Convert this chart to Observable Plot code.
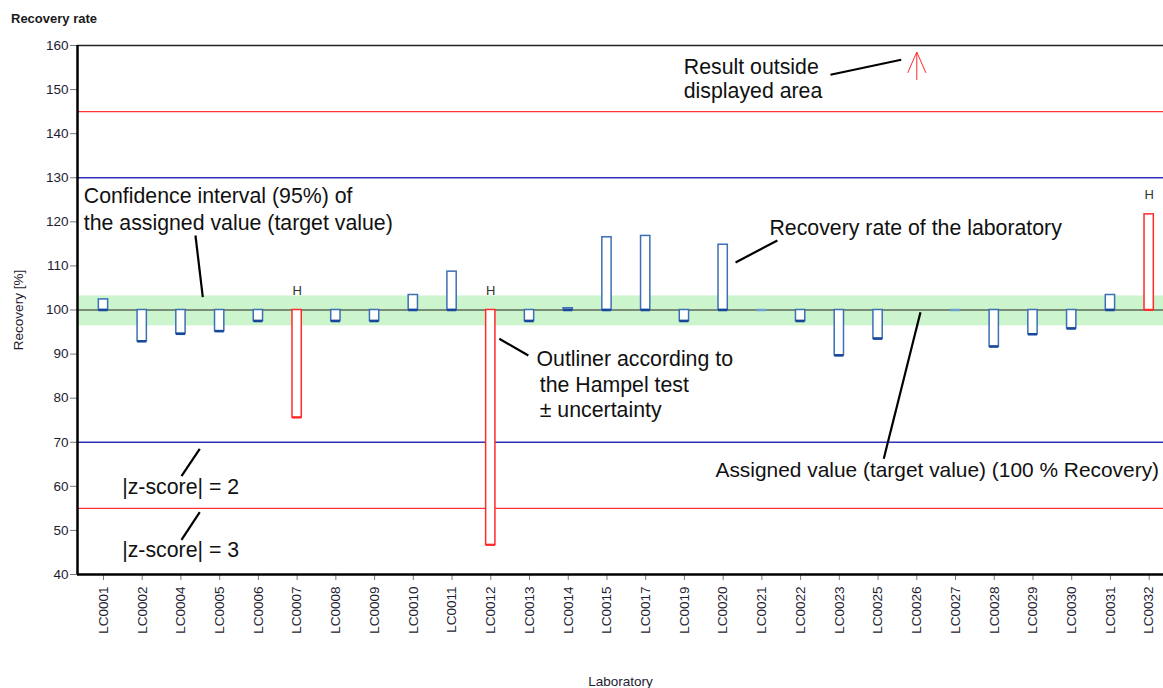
<!DOCTYPE html>
<html><head><meta charset="utf-8">
<script src="https://cdn.jsdelivr.net/npm/d3@7"></script>
<script src="https://cdn.jsdelivr.net/npm/@observablehq/plot@0.6"></script>
<style>
html,body{margin:0;padding:0;background:#fff;overflow:hidden;}
#title{height:30px;box-sizing:border-box;padding:12px 0 0 11px;font:bold 13px/13px "Liberation Sans",Arial,sans-serif;color:#1a1a1a;}
#chart svg{display:block;}
</style></head><body>
<div id="title">Recovery rate</div>
<div id="chart"></div>
<script>
// ---- data ----
const labs = ["LC0001","LC0002","LC0004","LC0005","LC0006","LC0007","LC0008","LC0009","LC0010","LC0011",
  "LC0012","LC0013","LC0014","LC0015","LC0017","LC0019","LC0020","LC0021","LC0022","LC0023",
  "LC0025","LC0026","LC0027","LC0028","LC0029","LC0030","LC0031","LC0032"];
const recovery = [102.4, 92.9, 94.6, 95.2, 97.5, 75.6, 97.5, 97.5, 103.4, 108.7,
  46.7, 97.5, 100.4, 116.5, 116.8, 97.5, 114.8, 100.0, 97.5, 89.7,
  93.5, 175.0, 100.0, 91.7, 94.5, 95.8, 103.4, 121.7];
const hampel = ["LC0007","LC0012","LC0032"];
const assigned = 100;
const ciRange = [96.4, 103.2];
const zScore2 = [70, 130];
const zScore3 = [55, 145];
const yTicks = [40,50,60,70,80,90,100,110,120,130,140,150,160];
const yDomain = [40, 160];

// annotation texts (left edge / baseline, data units)
const noteTexts = [
  {t: "Confidence interval (95%) of", x: -0.509, y: 124.32},
  {t: "the assigned value (target value)", x: -0.509, y: 118.19},
  {t: "Recovery rate of the laboratory", x: 17.196, y: 116.90},
  {t: "Outliner according to", x: 11.18, y: 87.41},
  {t: "the Hampel test", x: 11.265, y: 81.35},
  {t: "± uncertainty", x: 11.265, y: 75.68},
  {t: "Result outside", x: 14.983, y: 153.58},
  {t: "displayed area", x: 14.983, y: 147.98},
  {t: "|z-score| = 2", x: 0.483, y: 58.30},
  {t: "|z-score| = 3", x: 0.483, y: 44.08}
];
const noteAssigned = [{t: "Assigned value (target value) (100 % Recovery)", x: 15.802, y: 62.07}];
// annotation leader lines (data units)
const noteLinks = [
  {x1: 2.375, y1: 116.90, x2: 2.564, y2: 102.90},
  {x1: 16.32, y1: 110.78, x2: 17.40, y2: 115.77},
  {x1: 10.22, y1: 93.47, x2: 10.97, y2: 89.68},
  {x1: 18.771, y1: 153.36, x2: 20.597, y2: 156.76},
  {x1: 21.095, y1: 99.50, x2: 20.147, y2: 66.24},
  {x1: 2.486, y1: 68.51, x2: 2.014, y2: 62.30},
  {x1: 2.486, y1: 54.13, x2: 2.014, y2: 47.87}
];

// ---- build ----
const rows = labs.map((lab, i) => ({lab, i, v: recovery[i], h: hampel.includes(lab)}));
const inside = rows.filter(d => d.v >= yDomain[0] && d.v <= yDomain[1]);
const outside = rows.filter(d => d.v > yDomain[1]);
const hw = 0.12;
const BLUE = "#3d6fb5", DARK = "#17479a", LIGHT = "#6e9fd6", RED = "#ff2a2a";
const LINEBLUE = "#2f2fb8", LINERED = "#ff3333";
const xDomain = [-0.671, 27.37];

const chart = Plot.plot({
  width: 1163, height: 658,
  marginLeft: 77, marginRight: 0, marginTop: 15, marginBottom: 114,
  style: {fontFamily: "'Liberation Sans', Arial, sans-serif", fontSize: "13px", background: "#fff", overflow: "hidden"},
  x: {domain: xDomain},
  y: {domain: yDomain},
  marks: [
    Plot.rectY([ciRange], {y1: d => d[0], y2: d => d[1], fill: "#cdf5cd"}),
    Plot.ruleY(zScore3, {stroke: LINERED, strokeWidth: 1.3}),
    Plot.ruleY(zScore2, {stroke: LINEBLUE, strokeWidth: 1.3}),
    Plot.ruleY([assigned], {stroke: "#222", strokeWidth: 1}),
    Plot.ruleY([yDomain[1]], {stroke: "#222", strokeWidth: 1.5}),
    Plot.rect(inside.filter(d => !d.h && d.v !== assigned), {
      x1: d => d.i - hw, x2: d => d.i + hw, y1: assigned, y2: "v",
      fill: "white", stroke: BLUE, strokeWidth: 1.5}),
    Plot.rect(inside.filter(d => d.h), {
      x1: d => d.i - hw, x2: d => d.i + hw, y1: assigned, y2: "v",
      fill: "white", stroke: RED, strokeWidth: 1.5}),
    Plot.ruleY(inside.filter(d => !d.h), {
      y: d => Math.min(d.v, assigned), x1: d => d.i - hw, x2: d => d.i + hw,
      stroke: d => d.v === assigned ? LIGHT : DARK, strokeWidth: 2.5}),
    Plot.ruleY(inside.filter(d => d.h), {
      y: d => Math.min(d.v, assigned), x1: d => d.i - hw, x2: d => d.i + hw,
      stroke: RED, strokeWidth: 2}),
    Plot.text(rows.filter(d => d.h), {
      x: "i", y: d => Math.max(d.v, assigned), text: () => "H",
      dy: -15.5, lineAnchor: "bottom", fontSize: 13, fill: "#333"}),
    // arrows for results outside displayed area
    Plot.link(outside, {x1: "i", x2: "i", y1: yDomain[1] - 7.8, y2: yDomain[1] - 1.5, stroke: RED, strokeWidth: 1}),
    Plot.link(outside, {x1: d => d.i - 0.235, x2: "i", y1: yDomain[1] - 6.2, y2: yDomain[1] - 1.5, stroke: RED, strokeWidth: 1}),
    Plot.link(outside, {x1: d => d.i + 0.235, x2: "i", y1: yDomain[1] - 6.2, y2: yDomain[1] - 1.5, stroke: RED, strokeWidth: 1}),
    // annotations
    Plot.link(noteLinks, {x1: "x1", y1: "y1", x2: "x2", y2: "y2", stroke: "#000", strokeWidth: 2.2}),
    Plot.text(noteTexts, {x: "x", y: "y", text: "t", textAnchor: "start", lineAnchor: "bottom",
      fontSize: 21.3, fill: "#111"}),
    Plot.text(noteAssigned, {x: "x", y: "y", text: "t", textAnchor: "start", lineAnchor: "bottom",
      fontSize: 20.9, fill: "#111"}),
    // axes
    Plot.axisY({ticks: yTicks, tickSize: 7, tickPadding: 2, stroke: "#777", fill: "#1c1c30", fontSize: 13.5,
      label: "Recovery [%]", labelAnchor: "center", labelOffset: 64, labelArrow: "none"}),
    Plot.axisX({ticks: d3.range(labs.length), tickFormat: i => labs[i], tickRotate: -90,
      tickSize: 6, tickPadding: 6, stroke: "#777", fill: "#1c1c30", fontSize: 13.5,
      label: "Laboratory", labelAnchor: "center", labelOffset: 111, labelArrow: "none"}),
    Plot.ruleX([xDomain[0]], {stroke: "#000", strokeWidth: 2.5}),
    Plot.ruleY([yDomain[0]], {stroke: "#000", strokeWidth: 2.5})
  ]
});
document.getElementById("chart").appendChild(chart);
</script>
</body></html>
